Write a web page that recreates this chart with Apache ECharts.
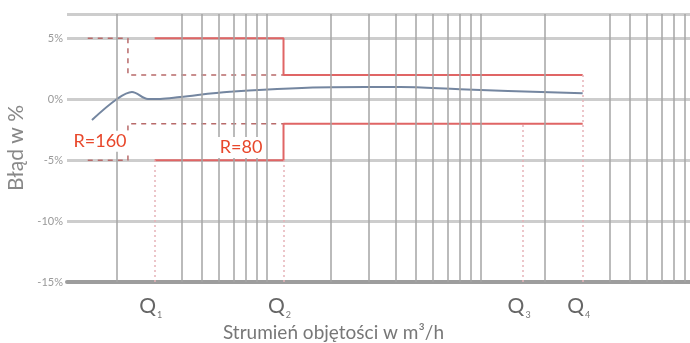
<!DOCTYPE html>
<html>
<head>
<meta charset="utf-8">
<script src="https://cdn.jsdelivr.net/npm/echarts@6/dist/echarts.min.js"></script>
<style>
  html, body { margin: 0; padding: 0; background: #fff; }
  #chart { width: 690px; height: 343px; }
</style>
</head>
<body>
<div id="chart"></div>
<script>
// vertical grid lines (m3/h, log axis)
const gridX = [1, 2, 2.5, 3, 3.5, 4, 4.5, 5, 10, 15, 20, 25, 30, 35, 40, 45, 50, 100, 200, 250, 300, 350, 400, 450]
// Q points
const qNames = ['1', '2', '3', '4']
const qValues = [1.5, 6, 79, 150]
const qTop = [-5, -5, -2, 2]
// measured error curve
const curveX = [0.764, 1, 1.175, 1.396, 1.59, 1.97, 3.37, 10.1, 21, 40, 150]
const curveY = [-1.7, 0.02, 0.6, 0.02, 0.03, 0.19, 0.62, 0.99, 1.0, 0.82, 0.49]
// limits R=80 (solid)
const r80X = [1.5, 6, 6, 150]
const r80Up = [5, 5, 2, 2]
const r80Lo = [-5, -5, -2, -2]
// limits R=160 (dashed)
const r160X = [0.73, 1.125, 1.125, 6]
const r160Up = [5, 5, 2, 2]
const r160Lo = [-5, -5, -2, -2]

const font = 'Lato, "Noto Sans", sans-serif'
const red = '#e8472b'

function pairs(xs, ys) {
  return xs.map((x, i) => [x, ys[i]])
}

const chart = echarts.init(document.getElementById('chart'))

const labelR = (text) => ({
  show: true,
  position: 'inside',
  formatter: text,
  color: red,
  fontFamily: font,
  fontSize: 18,
  backgroundColor: '#fff',
  padding: [2, 3, 1, 3]
})

const option = {
  animation: false,
  grid: { left: 67, right: 0, top: 14, bottom: 61, outerBoundsMode: 'none' },
  xAxis: {
    type: 'log',
    logBase: 10,
    min: 0.584,
    max: 476,
    name: 'Strumień objętości w m³/h',
    nameLocation: 'middle',
    nameGap: 41,
    nameTextStyle: { color: '#777', fontFamily: font, fontSize: 19, padding: [0, 90, 0, 0] },
    axisLine: { show: true, onZero: false, lineStyle: { color: '#9d9d9d', width: 4 } },
    axisTick: { show: false },
    axisLabel: { show: false },
    splitLine: { show: false }
  },
  yAxis: {
    type: 'value',
    min: -15,
    max: 7,
    interval: 5,
    name: 'Błąd w %',
    nameLocation: 'middle',
    nameGap: 37,
    nameTextStyle: { color: '#888', fontFamily: font, fontSize: 21 },
    axisLine: { show: false },
    axisTick: { show: false },
    axisLabel: {
      color: '#999',
      fontFamily: font,
      fontSize: 11,
      margin: 4,
      formatter: v => (v > 5 ? '' : v + '%')
    },
    splitLine: { show: true, lineStyle: { color: '#cdcdcd', width: 3 } }
  },
  series: [
    {
      // vertical grid
      type: 'line',
      data: [],
      z: 1,
      silent: true,
      markLine: {
        silent: true,
        symbol: 'none',
        animation: false,
        label: { show: false },
        lineStyle: { color: '#a4a4a4', width: 1.5, type: 'solid' },
        data: gridX.map(v => ({ xAxis: v }))
      }
    },
    {
      // Q markers
      type: 'line',
      data: [],
      z: 2,
      silent: true,
      markLine: {
        silent: true,
        symbol: 'none',
        animation: false,
        lineStyle: { color: '#e6b3b8', width: 1.5, type: [2, 3] },
        label: {
          show: true,
          position: 'start',
          distance: 14,
          rich: {
            q: { fontFamily: font, fontSize: 21, color: '#666', verticalAlign: 'bottom' },
            s: { fontFamily: font, fontSize: 9, color: '#777', verticalAlign: 'bottom', padding: [0, 0, -3, 1] }
          }
        },
        data: qValues.map((v, i) => [
          { coord: [v, -15], label: { formatter: '{q|Q}{s|' + qNames[i] + '}', padding: [0, 8, 0, 0] } },
          { coord: [v, qTop[i]] }
        ])
      }
    },
    {
      name: 'R=160 up',
      type: 'line',
      z: 3,
      symbol: 'none',
      data: pairs(r160X, r160Up),
      lineStyle: { color: '#b86a6a', width: 1.5, type: [5, 5] }
    },
    {
      name: 'R=160 lo',
      type: 'line',
      z: 3,
      symbol: 'none',
      data: pairs(r160X, r160Lo),
      lineStyle: { color: '#b86a6a', width: 1.5, type: [5, 5] },
      markPoint: {
        symbol: 'circle',
        symbolSize: 1,
        itemStyle: { color: 'rgba(0,0,0,0)' },
        data: [{ coord: [0.833, -3.45], label: labelR('R=160') }]
      }
    },
    {
      name: 'R=80 up',
      type: 'line',
      z: 3,
      symbol: 'none',
      data: pairs(r80X, r80Up),
      lineStyle: { color: '#e06565', width: 2 }
    },
    {
      name: 'R=80 lo',
      type: 'line',
      z: 3,
      symbol: 'none',
      data: pairs(r80X, r80Lo),
      lineStyle: { color: '#e06565', width: 2 },
      markPoint: {
        symbol: 'circle',
        symbolSize: 1,
        itemStyle: { color: 'rgba(0,0,0,0)' },
        data: [{ coord: [3.8, -3.96], label: labelR('R=80') }]
      }
    },
    {
      name: 'error',
      type: 'line',
      z: 4,
      symbol: 'none',
      smooth: 0.35,
      data: pairs(curveX, curveY),
      lineStyle: { color: '#7486a0', width: 2 }
    }
  ]
}

chart.setOption(option)
</script>
</body>
</html>
